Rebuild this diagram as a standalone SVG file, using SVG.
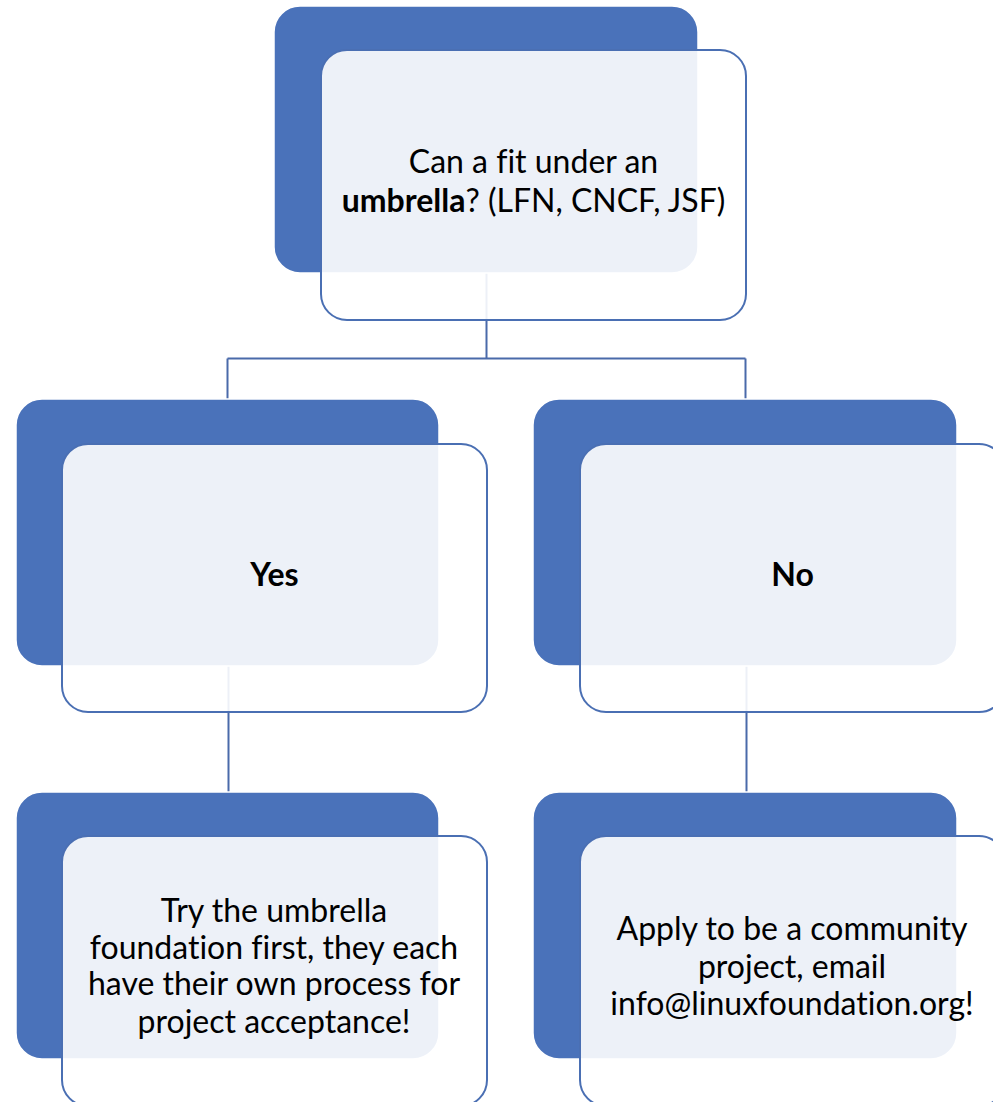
<svg xmlns="http://www.w3.org/2000/svg" width="993" height="1102" viewBox="0 0 993 1102">
<style>
.back{fill:#4A72BA;stroke:#ffffff;stroke-width:1.5}
.front{fill:#ffffff;fill-opacity:0.9;stroke:#4A6FB3;stroke-width:2}
.conn{fill:none;stroke:#4A6AAA;stroke-width:2}
text{font-family:Lato,"Open Sans",sans-serif;font-size:32px;fill:#000;text-anchor:middle;font-variant-ligatures:none}
.b{font-weight:bold}
</style>
<rect width="993" height="1102" fill="#ffffff"/>
<g id="connectors">
<path class="conn" d="M486.5,273 V358.5 M227.5,358.5 H745.5 M227.5,358.5 V399 M745.5,358.5 V399"/>
<path class="conn" d="M228.5,666 V792 M746.5,666 V792"/>
</g>
<g id="root">
<rect class="back" x="274" y="6" width="424" height="267" rx="26"/>
<rect class="front" x="321" y="50" width="425" height="270" rx="26"/>
<text x="533.5" y="173">Can a fit under an</text>
<text x="533.5" y="212"><tspan class="b">umbrella</tspan>? (LFN, CNCF, JSF)</text>
</g>
<g id="yes">
<rect class="back" x="16" y="399" width="423" height="267" rx="26"/>
<rect class="front" x="62" y="444" width="425" height="268" rx="26"/>
<text class="b" x="274.5" y="586">Yes</text>
</g>
<g id="no">
<rect class="back" x="533" y="399" width="424" height="267" rx="26"/>
<rect class="front" x="580" y="444" width="425" height="268" rx="26"/>
<text class="b" x="792.5" y="586">No</text>
</g>
<g id="yes-action">
<rect class="back" x="16" y="792" width="423" height="267" rx="26"/>
<rect class="front" x="62" y="836" width="425" height="270" rx="26"/>
<text x="274" y="922">Try the umbrella</text>
<text x="274" y="959">foundation first, they each</text>
<text x="274" y="995">have their own process for</text>
<text x="274" y="1033">project acceptance!</text>
</g>
<g id="no-action">
<rect class="back" x="533" y="792" width="424" height="267" rx="26"/>
<rect class="front" x="580" y="836" width="425" height="270" rx="26"/>
<text x="792" y="940">Apply to be a community</text>
<text x="792" y="978">project, email</text>
<text x="792" y="1015">info@linuxfoundation.org!</text>
</g>
</svg>
